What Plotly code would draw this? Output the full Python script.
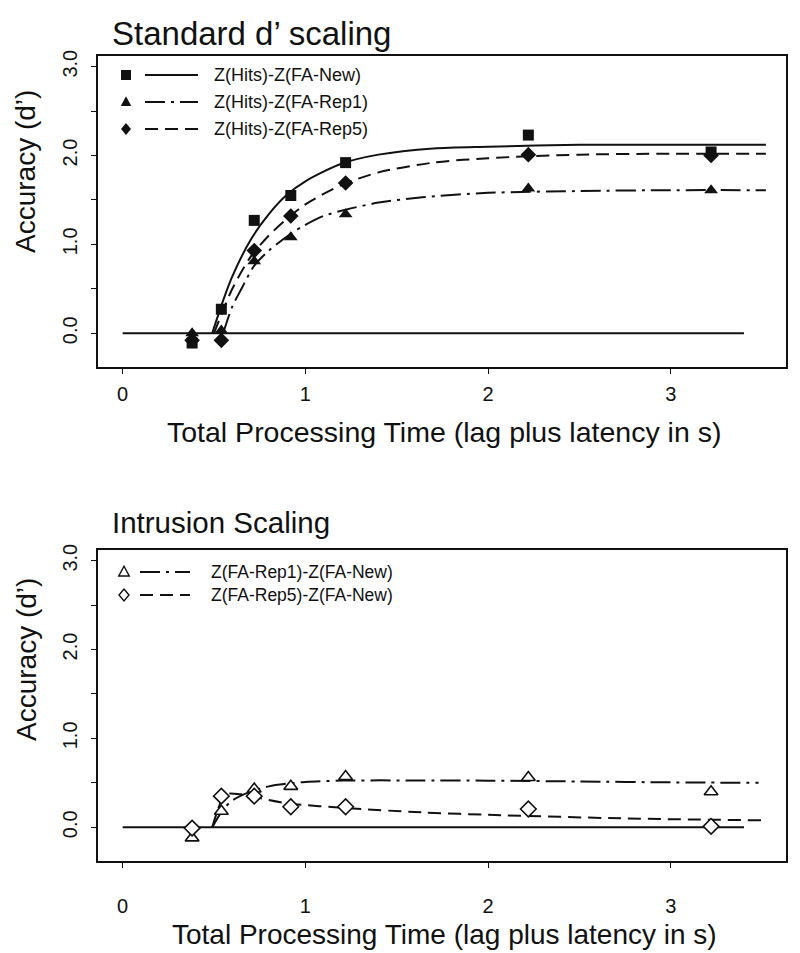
import plotly.graph_objects as go
from plotly.subplots import make_subplots

# ---------------- data ----------------
x_obs = [0.38, 0.54, 0.72, 0.92, 1.22, 2.22, 3.22]

# Standard d' scaling
hits_new = [-0.11, 0.27, 1.27, 1.55, 1.92, 2.23, 2.04]
hits_rep1 = [0.00, 0.03, 0.81, 1.08, 1.34, 1.63, 1.61]
hits_rep5 = [-0.08, -0.08, 0.93, 1.32, 1.69, 2.01, 2.00]

fit_new_t = [0.49, 0.55, 0.60, 0.70, 0.80, 0.90, 1.00, 1.20, 1.40, 1.70, 2.00, 2.50, 3.00, 3.52]
fit_new_y = [0.00, 0.37, 0.64, 1.05, 1.34, 1.56, 1.71, 1.91, 2.01, 2.08, 2.10, 2.12, 2.12, 2.12]

fit_rep5_t = [0.50, 0.55, 0.60, 0.70, 0.80, 0.90, 1.00, 1.20, 1.40, 1.70, 2.00, 2.50, 3.00, 3.52]
fit_rep5_y = [0.00, 0.26, 0.50, 0.86, 1.10, 1.29, 1.45, 1.67, 1.81, 1.92, 1.97, 2.01, 2.02, 2.02]

fit_rep1_t = [0.55, 0.60, 0.65, 0.72, 0.80, 0.92, 1.00, 1.10, 1.22, 1.40, 1.64, 2.00, 2.50, 3.00, 3.52]
fit_rep1_y = [0.00, 0.30, 0.50, 0.76, 0.93, 1.12, 1.22, 1.32, 1.39, 1.47, 1.53, 1.58, 1.60, 1.61, 1.61]

# Intrusion scaling
int_rep1 = [-0.12, 0.18, 0.43, 0.46, 0.57, 0.56, 0.40]
int_rep5 = [-0.01, 0.35, 0.35, 0.23, 0.23, 0.205, 0.01]

fit_irep1_t = [0.49, 0.55, 0.60, 0.70, 0.80, 0.90, 1.00, 1.20, 1.60, 2.00, 2.50, 3.00, 3.48]
fit_irep1_y = [0.00, 0.20, 0.30, 0.40, 0.46, 0.49, 0.51, 0.525, 0.527, 0.524, 0.515, 0.505, 0.50]

fit_irep5_t = [0.49, 0.53, 0.56, 0.65, 0.72, 0.90, 1.22, 1.64, 2.00, 2.73, 3.50]
fit_irep5_y = [0.00, 0.25, 0.37, 0.37, 0.34, 0.27, 0.216, 0.167, 0.14, 0.10, 0.077]

zero_x = [0.0, 3.4]
zero_y = [0.0, 0.0]

x_ticks = [0, 1, 2, 3]
y_tickvals = [0.0, 0.5, 1.0, 1.5, 2.0, 2.5, 3.0]
y_ticktext = ["0.0", "", "1.0", "", "2.0", "", "3.0"]

top_title = "Standard d\u2019 scaling"
bottom_title = "Intrusion Scaling"
x_title = "Total Processing Time (lag plus latency in s)"
y_title = "Accuracy (d\u2019)"
top_names = ["Z(Hits)-Z(FA-New)", "Z(Hits)-Z(FA-Rep1)", "Z(Hits)-Z(FA-Rep5)"]
bottom_names = ["Z(FA-Rep1)-Z(FA-New)", "Z(FA-Rep5)-Z(FA-New)"]

# ---------------- layout geometry ----------------
W, H = 800, 953
OFF = 8  # the page body adds an 8px margin; positions below are screen pixels
PL, PR, PT, PB = 98, 786, 56, 861  # plot-area box in screen pixels
ML, MT = PL - OFF, PT - OFF
MR, MB = W - (PR - OFF), H - (PB - OFF)
PW = PR - PL
PH = PB - PT
FONT = "Liberation Sans, Arial, Helvetica, sans-serif"


def px(xp):
    return (xp - PL) / PW


def py(yp):
    return (PB - yp) / PH


DASH = "13px,7px"
DASHDOT = "20px,6px,3px,6px"
BLACK = "#111111"

fig = make_subplots(rows=2, cols=1)

line_kw = dict(color=BLACK, width=2)


def curve(t, y, dash, row):
    fig.add_trace(go.Scatter(x=t, y=y, mode="lines", line=dict(color=BLACK, width=2, dash=dash,
                                                               shape="spline", smoothing=0.8),
                             showlegend=False, hoverinfo="skip"), row=row, col=1)


def points(y, symbol, size, row, open_=False):
    if open_:
        m = dict(symbol=symbol, size=size, color="white", line=dict(color=BLACK, width=1.6))
    else:
        m = dict(symbol=symbol, size=size, color=BLACK, line=dict(color=BLACK, width=0))
    fig.add_trace(go.Scatter(x=x_obs, y=y, mode="markers", marker=m, showlegend=False),
                  row=row, col=1)


# top panel
fig.add_trace(go.Scatter(x=zero_x, y=zero_y, mode="lines", line=line_kw, showlegend=False), row=1, col=1)
curve(fit_new_t, fit_new_y, "solid", 1)
curve(fit_rep1_t, fit_rep1_y, DASHDOT, 1)
curve(fit_rep5_t, fit_rep5_y, DASH, 1)
points(hits_new, "square", 11, 1)
points(hits_rep1, "triangle-up", 12, 1)
points(hits_rep5, "diamond", 12, 1)

# bottom panel
fig.add_trace(go.Scatter(x=zero_x, y=zero_y, mode="lines", line=line_kw, showlegend=False), row=2, col=1)
curve(fit_irep1_t, fit_irep1_y, DASHDOT, 2)
curve(fit_irep5_t, fit_irep5_y, DASH, 2)
points(int_rep1, "triangle-up", 12, 2, open_=True)
points(int_rep5, "diamond", 12, 2, open_=True)

axis_common = dict(showline=True, linecolor=BLACK, linewidth=1.5, mirror=True, showgrid=False,
                   zeroline=False, ticks="outside", ticklen=5, tickwidth=1.2, tickcolor=BLACK,
                   automargin=False,
                   tickfont=dict(family=FONT, size=20, color=BLACK))

top_dom = [py(367), 1.0]
bot_dom = [0.0, py(550)]

for i, dom, xs in ((1, top_dom, 3), (2, bot_dom, 21)):
    fig.update_xaxes(row=i, col=1, range=[-0.135, 3.63], tickvals=x_ticks, domain=[0, 1],
                     ticklabelstandoff=xs, **axis_common)
    fig.update_yaxes(row=i, col=1, range=[-0.38, 3.12], tickvals=y_tickvals, ticktext=y_ticktext,
                     tickangle=-90, domain=dom, ticklabelstandoff=6, **axis_common)

ann = []
shapes = []


def text(x, y, s, size, anchor="left", angle=0):
    ann.append(dict(x=px(x), y=py(y), xref="paper", yref="paper", text=s, showarrow=False,
                    xanchor=anchor, yanchor="middle", textangle=angle,
                    font=dict(family=FONT, size=size, color=BLACK)))


# titles
text(110, 33, top_title, 33)
text(110, 522, bottom_title, 29.5)
text(444, 432, x_title, 28.5, anchor="center")
text(444, 934, x_title, 28, anchor="center")
text(26, 172, y_title, 28, anchor="center", angle=-90)
text(26, 660, y_title, 28, anchor="center", angle=-90)


def seg(x0, x1, y, dash):
    shapes.append(dict(type="line", xref="paper", yref="paper", x0=px(x0), x1=px(x1), y0=py(y), y1=py(y),
                       line=dict(color=BLACK, width=2, dash=dash)))


def sym(kind, cx, cy, r, filled=True):
    fill = BLACK if filled else "rgba(0,0,0,0)"
    if kind == "square":
        pts = [(cx - r, cy - r), (cx + r, cy - r), (cx + r, cy + r), (cx - r, cy + r)]
    elif kind == "tri":
        pts = [(cx, cy - r * 1.15), (cx + r * 1.05, cy + r * 0.8), (cx - r * 1.05, cy + r * 0.8)]
    else:
        pts = [(cx, cy - r * 1.2), (cx + r * 1.0, cy), (cx, cy + r * 1.2), (cx - r * 1.0, cy)]
    path = "M " + " L ".join(f"{px(a):.5f},{py(b):.5f}" for a, b in pts) + " Z"
    shapes.append(dict(type="path", xref="paper", yref="paper", path=path, fillcolor=fill,
                       line=dict(color=BLACK, width=0 if filled else 1.4)))


# top legend
rows_top = [75, 102, 129]
kinds_top = ["square", "tri", "dia"]
dashes_top = ["solid", DASHDOT, DASH]
for yy, k, d, nm in zip(rows_top, kinds_top, dashes_top, top_names):
    sym(k, 126, yy, 5)
    seg(145, 198, yy, d)
    text(212, yy, nm, 18)

# bottom legend
rows_bot = [572, 595]
kinds_bot = ["tri", "dia"]
dashes_bot = [DASHDOT, DASH]
for yy, k, d, nm in zip(rows_bot, kinds_bot, dashes_bot, bottom_names):
    sym(k, 124, yy, 5, filled=False)
    seg(140, 190, yy, d)
    text(209, yy, nm, 17.5)

fig.update_layout(width=W, height=H, margin=dict(l=ML, r=MR, t=MT, b=MB),
                  paper_bgcolor="white", plot_bgcolor="white", showlegend=False,
                  annotations=ann, shapes=shapes, font=dict(family=FONT, color=BLACK))

fig.write_html("out.html")
